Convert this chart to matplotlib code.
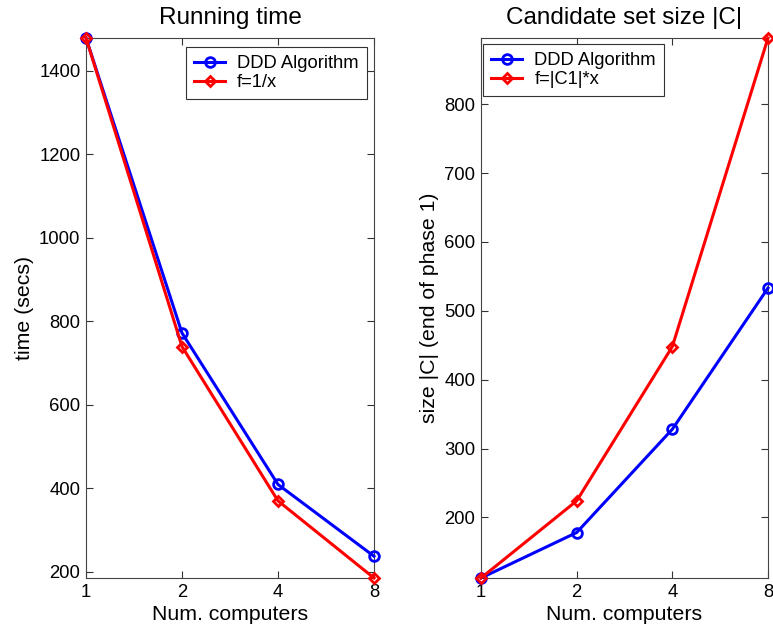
import matplotlib
matplotlib.use("Agg")
import matplotlib.pyplot as plt
import numpy as np

# Data
computers = [1, 2, 4, 8]
time_ddd = [1479, 772, 409, 237]
time_ideal = [1479, 739.5, 369.75, 184.9]
size_ddd = [112, 178, 328, 533]
size_ideal = [112, 224, 448, 896]

plt.rcParams['font.family'] = ['Liberation Sans', 'DejaVu Sans']

fig = plt.figure(figsize=(7.73, 6.31), dpi=100)
ax1 = fig.add_axes([86 / 773, 53 / 631, 288 / 773, 540 / 631])
ax2 = fig.add_axes([481 / 773, 53 / 631, 287 / 773, 540 / 631])


def style(ax, title, ylabel, yticks, ylim):
    ax.set_xscale("log", base=2)
    ax.set_xlim(1, 8)
    ax.set_xticks(computers)
    ax.set_xticklabels([str(c) for c in computers])
    ax.minorticks_off()
    ax.set_yticks(yticks)
    ax.set_ylim(*ylim)
    ax.tick_params(direction="in", top=True, right=True, length=5,
                   labelsize=13.3, colors="#333333", labelcolor="black", pad=4)
    for s in ax.spines.values():
        s.set_color("#444444")
        s.set_linewidth(0.8)
    ax.set_title(title, fontsize=17.5, pad=10)
    ax.set_xlabel("Num. computers", fontsize=15.3, labelpad=3)
    ax.set_ylabel(ylabel, fontsize=15.3, labelpad=4)


ax1.plot(computers, time_ddd, color="blue", lw=2.2, marker="o", ms=7,
         mfc="none", mew=2, label="DDD Algorithm", clip_on=False, zorder=3)
ax1.plot(computers, time_ideal, color="red", lw=2.2, marker="D", ms=5.5,
         mfc="none", mew=2, label="f=1/x", clip_on=False, zorder=4)
style(ax1, "Running time", "time (secs)", np.arange(200, 1401, 200),
      (min(time_ideal), max(time_ideal)))

ax2.plot(computers, size_ddd, color="blue", lw=2.2, marker="o", ms=7,
         mfc="none", mew=2, label="DDD Algorithm", clip_on=False, zorder=3)
ax2.plot(computers, size_ideal, color="red", lw=2.2, marker="D", ms=5.5,
         mfc="none", mew=2, label="f=|C1|*x", clip_on=False, zorder=4)
style(ax2, "Candidate set size |C|", "size |C| (end of phase 1)",
      np.arange(200, 801, 100), (min(size_ideal), max(size_ideal)))

leg_opts = dict(fontsize=13.2, fancybox=False, framealpha=1,
                edgecolor="#333333", handlelength=1.7, borderaxespad=0,
                borderpad=0.45, labelspacing=0.1, handletextpad=0.65)
leg1 = ax1.legend(loc="upper right", bbox_to_anchor=(367 / 773, 584 / 631),
                  bbox_transform=fig.transFigure, **leg_opts)
leg2 = ax2.legend(loc="upper left", bbox_to_anchor=(483 / 773, 587 / 631),
                  bbox_transform=fig.transFigure, **leg_opts)
for leg in (leg1, leg2):
    leg.get_frame().set_linewidth(0.8)

fig.savefig("out.png", dpi=100)
